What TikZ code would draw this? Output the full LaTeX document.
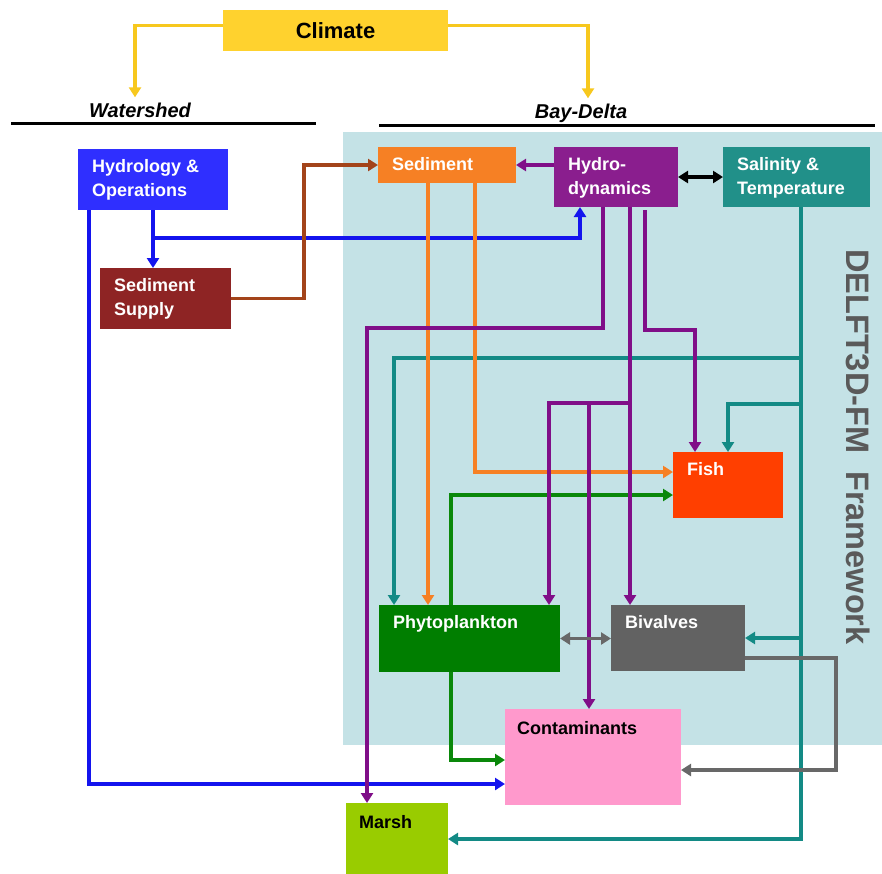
\documentclass[tikz,border=0pt]{standalone}
\usepackage{fontspec}
\setmainfont{Liberation Sans}
\usetikzlibrary{arrows.meta}
\definecolor{climateyellow}{HTML}{FFD22E}
\definecolor{arrowyellow}{HTML}{F7C81E}
\definecolor{hydroblue}{HTML}{2F2FFF}
\definecolor{lineblue}{HTML}{1414EE}
\definecolor{supplyred}{HTML}{8E2424}
\definecolor{linebrown}{HTML}{A3441A}
\definecolor{sedorange}{HTML}{F68024}
\definecolor{hydropurple}{HTML}{8A1E8E}
\definecolor{linepurple}{HTML}{800E88}
\definecolor{salteal}{HTML}{219089}
\definecolor{lineteal}{HTML}{138A85}
\definecolor{fishred}{HTML}{FF3F00}
\definecolor{phytogreen}{HTML}{007E00}
\definecolor{linegreen}{HTML}{0A880A}
\definecolor{bivgray}{HTML}{626262}
\definecolor{linegray}{HTML}{686868}
\definecolor{contampink}{HTML}{FF99CC}
\definecolor{marshgreen}{HTML}{99CC00}
\definecolor{frameblue}{HTML}{C4E2E6}
\definecolor{framegray}{HTML}{5A5A5A}

\begin{document}
\begin{tikzpicture}[x=1pt,y=-1pt,>={Triangle[length=10pt,width=12pt]},
    box/.style={rectangle,anchor=north west,inner sep=0pt,outer sep=0pt},
    boxtext/.style={anchor=north west,xshift=14pt,yshift=-10pt,inner sep=0pt,
      align=left,text=white,font=\fontsize{18}{24}\selectfont\bfseries},
    heading/.style={anchor=base,inner sep=0pt,font=\fontsize{20}{20}\selectfont\bfseries\itshape},
    link/.style={line width=3.5pt,->}]
\useasboundingbox (0,0) rectangle (882,873);
% Framework panel
\fill[frameblue] (343,132) rectangle (882,745);
\node[rotate=-90,text=framegray,font=\fontsize{32.5}{32.5}\selectfont\bfseries] (delft) at (858,447) {DELFT3D-FM\ \ Framework};
% Headings
\node[heading] (watershed) at (140,117) {Watershed};
\node[heading] (baydelta) at (581,118) {Bay-Delta};
\draw[line width=3pt] (11,123) -- (316,123);
\draw[line width=3pt] (379,125) -- (875,125);
% Boxes
\node[box,fill=climateyellow,minimum width=225pt,minimum height=41pt,
  font=\fontsize{22}{22}\selectfont\bfseries] (climate) at (223,10) {Climate};
\node[box,fill=hydroblue,minimum width=150pt,minimum height=61pt,
  label={[boxtext]north west:Hydrology \&\\Operations}] (hydrol) at (78,149) {};
\node[box,fill=supplyred,minimum width=131pt,minimum height=61pt,
  label={[boxtext]north west:Sediment\\Supply}] (sedsup) at (100,268) {};
\node[box,fill=sedorange,minimum width=138pt,minimum height=36pt,
  label={[boxtext]north west:Sediment}] (sediment) at (378,147) {};
\node[box,fill=hydropurple,minimum width=124pt,minimum height=60pt,
  label={[boxtext]north west:Hydro-\\dynamics}] (hydrodyn) at (554,147) {};
\node[box,fill=salteal,minimum width=147pt,minimum height=60pt,
  label={[boxtext]north west:Salinity \&\\Temperature}] (salinity) at (723,147) {};
\node[box,fill=fishred,minimum width=110pt,minimum height=66pt,
  label={[boxtext]north west:Fish}] (fish) at (673,452) {};
\node[box,fill=phytogreen,minimum width=181pt,minimum height=67pt,
  label={[boxtext]north west:Phytoplankton}] (phyto) at (379,605) {};
\node[box,fill=bivgray,minimum width=134pt,minimum height=66pt,
  label={[boxtext]north west:Bivalves}] (bivalves) at (611,605) {};
\node[box,fill=contampink,minimum width=176pt,minimum height=96pt,
  label={[boxtext,text=black,xshift=-2pt,yshift=-2pt]north west:Contaminants}] (contam) at (505,709) {};
\node[box,fill=marshgreen,minimum width=102pt,minimum height=72pt,
  label={[boxtext,text=black,xshift=-1pt,yshift=-2pt]north west:Marsh}] (marsh) at (346,803) {};
% Watershed links
\draw[link,lineblue] (hydrol.south) -- (hydrol.south |- sedsup.north);
\coordinate (bluejoin) at (153,238);
\draw[link,lineblue] (bluejoin) -| ([xshift=-36pt]hydrodyn.south);
\draw[link,lineblue] ([xshift=-64pt]hydrol.south) |- ([yshift=-27pt]contam.west);
\draw[link,linebrown] (sedsup.east) -- ++(73,0) |- (sediment.west);
% Salinity links
\coordinate (tealA) at (801,358);
\coordinate (tealB) at (801,404);
\draw[link,lineteal] ([xshift=4.5pt]salinity.south) |- (marsh.east);
\draw[link,lineteal] (tealA) -| ([xshift=-75.5pt]phyto.north);
\draw[link,lineteal] (tealB) -| (fish.north);
\draw[link,lineteal] (bivalves.east -| tealA) -- (bivalves.east);
% Phytoplankton links
\draw[link,linegreen] ([xshift=-18.5pt]phyto.north) |- ([yshift=-10pt]fish.west);
\draw[link,linegreen] ([xshift=-18.5pt]phyto.south) |- ([yshift=-3pt]contam.west);
% Sediment links
\draw[link,sedorange] ([xshift=-19pt]sediment.south) -- ([xshift=-41.5pt]phyto.north);
\draw[link,sedorange] ([xshift=28pt]sediment.south) |- ([yshift=13pt]fish.west);
% Hydrodynamics links
\coordinate (purpA) at (630,403);
\coordinate (purpB) at (589,403);
\draw[link,linepurple] (hydrodyn.west |- sediment.east) -- (sediment.east);
\draw[link,linepurple] ([xshift=-13pt]hydrodyn.south) -- ++(0,121) -| ([xshift=-30pt]marsh.north);
\draw[link,linepurple] ([xshift=14pt]hydrodyn.south) -- ([xshift=-48pt]bivalves.north);
\draw[link,linepurple] (purpA) -| ([xshift=79.5pt]phyto.north);
\draw[link,linepurple] (purpB) -- ([xshift=-4pt]contam.north);
\draw[link,linepurple] ([xshift=29pt,yshift=-3pt]hydrodyn.south) -- ++(0,120) -| ([xshift=-33pt]fish.north);
% Bivalves links
\draw[line width=3.5pt,<->,linegray] (phyto.east) -- (phyto.east -| bivalves.west);
\draw[link,linegray] ([yshift=-20pt]bivalves.east) -- ++(91,0) |- ([yshift=-13pt]contam.east);
\draw[line width=3.5pt,<->] (hydrodyn.east) -- (salinity.west);
% Climate links
\draw[link,arrowyellow] ([yshift=5pt]climate.west) -| ([xshift=-5pt,yshift=5pt]watershed.north);
\draw[link,arrowyellow] ([yshift=5pt]climate.east) -| ([xshift=7pt,yshift=5pt]baydelta.north);
\end{tikzpicture}
\end{document}
